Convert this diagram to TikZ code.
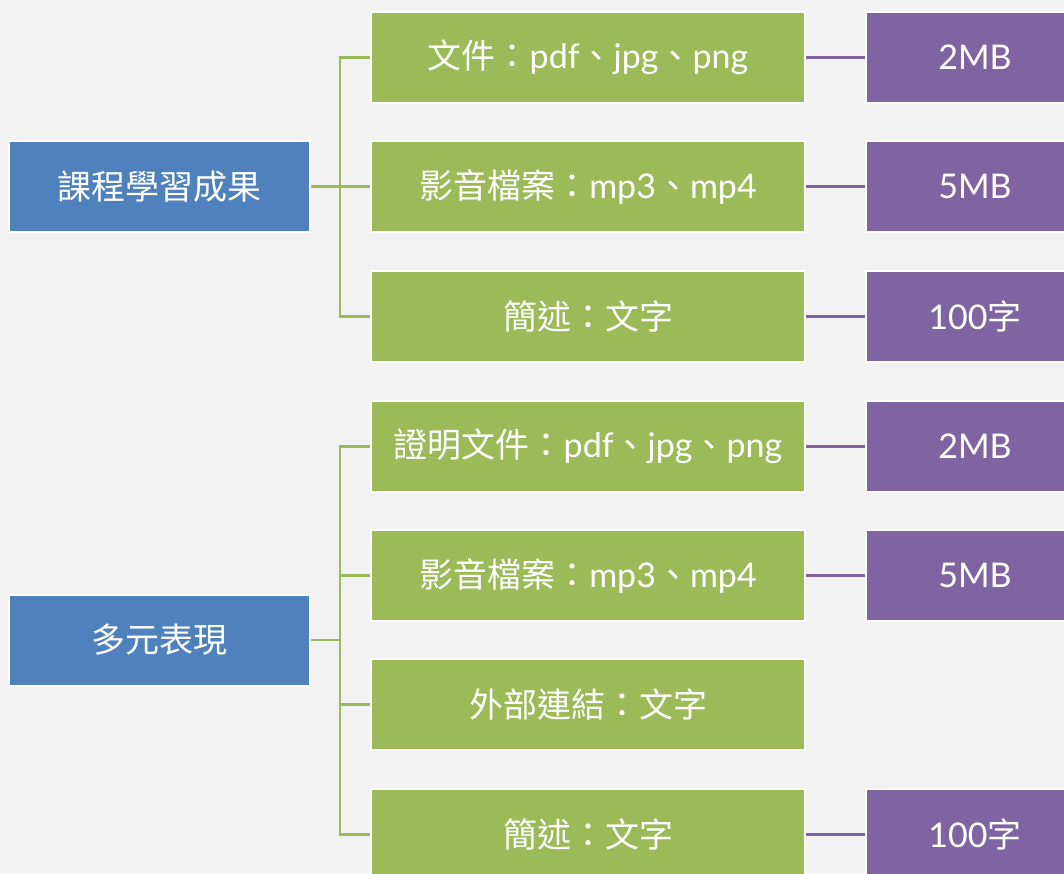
\documentclass[tikz,border=0pt]{standalone}
\usepackage{fontspec}
\setmainfont{Noto Sans CJK TC}
\newfontfamily\latfont{Lato}
\newcommand{\lt}[1]{{\latfont #1}}
\definecolor{bgc}{HTML}{F2F2F2}
\definecolor{bluec}{HTML}{4F81BD}
\definecolor{greenc}{HTML}{9BBB59}
\definecolor{purplec}{HTML}{8064A2}
\begin{document}
\begin{tikzpicture}[x=1pt,y=-1pt,
  box/.style={draw=white,line width=2pt,minimum height=91pt,inner sep=0pt,text=white,
    font=\fontsize{34}{40}\selectfont},
  bluebox/.style={box,fill=bluec,minimum width=301pt},
  greenbox/.style={box,fill=greenc,minimum width=434pt},
  purplebox/.style={box,fill=purplec,minimum width=218pt},
  gline/.style={draw=greenc,line width=2.5pt},
  pline/.style={draw=purplec,line width=2.5pt}]
\useasboundingbox (0,0) rectangle (1064,873);
\fill[bgc] (0,0) rectangle (1064,873);
\begin{scope}
\clip (0,0) rectangle (1064,873);
\node[bluebox] (b1) at (159.5,186.5) {課程學習成果};
\node[bluebox] (b2) at (159.5,640) {多元表現};
\node[greenbox] (g1) at (588,57.5) {文件：\lt{pdf}、\lt{jpg}、\lt{png}};
\node[greenbox] (g2) at (588,186.5) {影音檔案：\lt{mp3}、\lt{mp4}};
\node[greenbox] (g3) at (588,316.5) {簡述：文字};
\node[greenbox] (g4) at (588,446.5) {證明文件：\lt{pdf}、\lt{jpg}、\lt{png}};
\node[greenbox] (g5) at (588,575.5) {影音檔案：\lt{mp3}、\lt{mp4}};
\node[greenbox] (g6) at (588,704.5) {外部連結：文字};
\node[greenbox] (g7) at (588,834.5) {簡述：文字};
\node[purplebox] (p1) at (975,57.5) {\lt{2MB}};
\node[purplebox] (p2) at (975,186.5) {\lt{5MB}};
\node[purplebox] (p3) at (975,316.5) {\lt{100}字};
\node[purplebox] (p4) at (975,446.5) {\lt{2MB}};
\node[purplebox] (p5) at (975,575.5) {\lt{5MB}};
\node[purplebox] (p7) at (975,834.5) {\lt{100}字};
\coordinate (t1) at (340,186.5);
\coordinate (t2) at (340,640);
\draw[gline] (b1.east) -- (t1);
\draw[gline] (t1) |- (g1.west);
\draw[gline] (t1) |- (g2.west);
\draw[gline] (t1) |- (g3.west);
\draw[gline] (b2.east) -- (t2);
\draw[gline] (t2) |- (g4.west);
\draw[gline] (t2) |- (g5.west);
\draw[gline] (t2) |- (g6.west);
\draw[gline] (t2) |- (g7.west);
\draw[pline] (g1.east) -- (p1.west);
\draw[pline] (g2.east) -- (p2.west);
\draw[pline] (g3.east) -- (p3.west);
\draw[pline] (g4.east) -- (p4.west);
\draw[pline] (g5.east) -- (p5.west);
\draw[pline] (g7.east) -- (p7.west);
\end{scope}
\end{tikzpicture}
\end{document}
